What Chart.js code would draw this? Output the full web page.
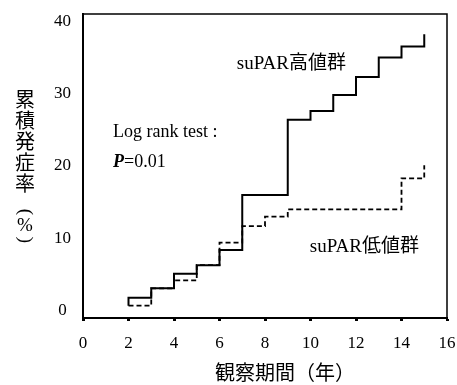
<!DOCTYPE html>
<html>
<head>
<meta charset="utf-8">
<script src="https://cdn.jsdelivr.net/npm/chart.js@4.4.1/dist/chart.umd.min.js"></script>
<style>
  html, body { margin: 0; padding: 0; background: #fff; }
  #wrap { width: 457px; height: 385px; position: relative; }
</style>
</head>
<body>
<div id="wrap"><canvas id="kmChart"></canvas></div>
<script>
// ===================== Cumulative incidence by suPAR group =====================
const years = [2, 3, 4, 5, 6, 7, 8, 9, 10, 11, 12, 13, 14, 15];
const highGroup = [1.8, 3.1, 5.1, 6.3, 8.4, 16.0, 16.0, 26.4, 27.6, 29.8, 32.3, 35.0, 36.5, 38.2];
const lowGroup = [0.7, 3.1, 4.2, 6.3, 9.4, 11.7, 13.0, 14.0, 14.0, 14.0, 14.0, 14.0, 18.3, 20.1];
const xTicks = [0, 2, 4, 6, 8, 10, 12, 14, 16];
const yTicks = [0, 10, 20, 30, 40];
const yTitleChars = ["累", "積", "発", "症", "率"];

const SERIF = "'Liberation Serif', 'Times New Roman', serif";
const CJK = "'Liberation Serif', 'Noto Sans CJK JP', sans-serif";

function toPoints(xs, ys) {
  return xs.map(function (x, i) {
    return { x: x, y: ys[i] };
  });
}

// the high curve starts from the low curve's first value at year 2
const highPoints = [{ x: years[0], y: lowGroup[0] }].concat(toPoints(years, highGroup));
const lowPoints = toPoints(years, lowGroup);

function rotatedText(ctx, text, x, y, angle) {
  ctx.save();
  ctx.translate(x, y);
  ctx.rotate(angle);
  ctx.fillText(text, 0, 0);
  ctx.restore();
}

const textPlugin = {
  id: "textPlugin",
  afterDraw(chart) {
    const ctx = chart.ctx;
    const area = chart.chartArea;
    const xs = chart.scales.x;
    const ys = chart.scales.y;
    ctx.save();

    // top and right frame
    ctx.strokeStyle = "#000";
    ctx.lineWidth = 1.5;
    ctx.beginPath();
    ctx.moveTo(area.left, area.top);
    ctx.lineTo(area.right, area.top);
    ctx.lineTo(area.right, area.bottom);
    ctx.stroke();

    ctx.fillStyle = "#000";
    ctx.textBaseline = "middle";

    // group labels
    ctx.textAlign = "center";
    ctx.font = "19px " + CJK;
    ctx.fillText("suPAR高値群", xs.getPixelForValue(9.16), ys.getPixelForValue(34.1));
    ctx.fillText("suPAR低値群", xs.getPixelForValue(12.37), ys.getPixelForValue(8.8));

    // log rank test
    ctx.textAlign = "left";
    const lx = xs.getPixelForValue(1.32);
    ctx.font = "18px " + SERIF;
    ctx.fillText("Log rank test :", lx, ys.getPixelForValue(24.7));
    const py = ys.getPixelForValue(20.5);
    ctx.font = "italic bold 18px " + SERIF;
    ctx.fillText("P", lx, py);
    const pw = ctx.measureText("P").width;
    ctx.font = "18px " + SERIF;
    ctx.fillText("=0.01", lx + pw, py);

    // y axis title, stacked vertically
    ctx.textAlign = "center";
    ctx.font = "20px 'Noto Sans CJK JP', sans-serif";
    yTitleChars.forEach(function (ch, i) {
      ctx.fillText(ch, 25, 99 + i * 21);
    });
    ctx.font = "19px " + SERIF;
    rotatedText(ctx, "(", 25, 212, Math.PI / 2);
    ctx.fillText("%", 25, 226);
    rotatedText(ctx, ")", 25, 240, Math.PI / 2);

    // x axis title
    ctx.font = "20px 'Noto Sans CJK JP', sans-serif";
    ctx.fillText("観察期間（年）", 285, 372);

    ctx.restore();
  },
};

new Chart(document.getElementById("kmChart").getContext("2d"), {
  type: "line",
  data: {
    datasets: [
      {
        label: "suPAR高値群",
        data: highPoints,
        stepped: "before",
        borderColor: "#000",
        borderWidth: 2,
        pointRadius: 0,
        fill: false,
      },
      {
        label: "suPAR低値群",
        data: lowPoints,
        stepped: "before",
        borderColor: "#000",
        borderWidth: 1.8,
        borderDash: [5, 3],
        pointRadius: 0,
        fill: false,
      },
    ],
  },
  options: {
    responsive: true,
    maintainAspectRatio: false,
    animation: false,
    layout: {
      padding: { left: 0, right: 10, top: 14, bottom: 0 },
    },
    scales: {
      x: {
        type: "linear",
        min: 0,
        max: 16,
        afterBuildTicks: function (scale) {
          scale.ticks = xTicks.map(function (v) {
            return { value: v };
          });
        },
        afterFit: function (scale) {
          scale.height = 67;
          scale.paddingLeft = 0;
          scale.paddingRight = 0;
        },
        grid: {
          display: true,
          drawOnChartArea: false,
          drawTicks: true,
          tickLength: 3,
          tickWidth: 3,
          tickColor: "#000",
        },
        border: { display: true, color: "#000", width: 2 },
        ticks: {
          color: "#000",
          padding: 12,
          maxRotation: 0,
          font: { family: SERIF, size: 17 },
        },
      },
      y: {
        type: "linear",
        min: -1,
        max: 41,
        afterBuildTicks: function (scale) {
          scale.ticks = yTicks.map(function (v) {
            return { value: v };
          });
        },
        afterFit: function (scale) {
          scale.width = 83;
          scale.paddingTop = 0;
          scale.paddingBottom = 0;
        },
        grid: { display: false, tickLength: 0 },
        border: { display: true, color: "#000", width: 2 },
        ticks: {
          color: "#000",
          padding: 12,
          crossAlign: "center",
          font: { family: SERIF, size: 17 },
        },
      },
    },
    plugins: {
      legend: { display: false },
      tooltip: { enabled: false },
    },
  },
  plugins: [textPlugin],
});
</script>
</body>
</html>
